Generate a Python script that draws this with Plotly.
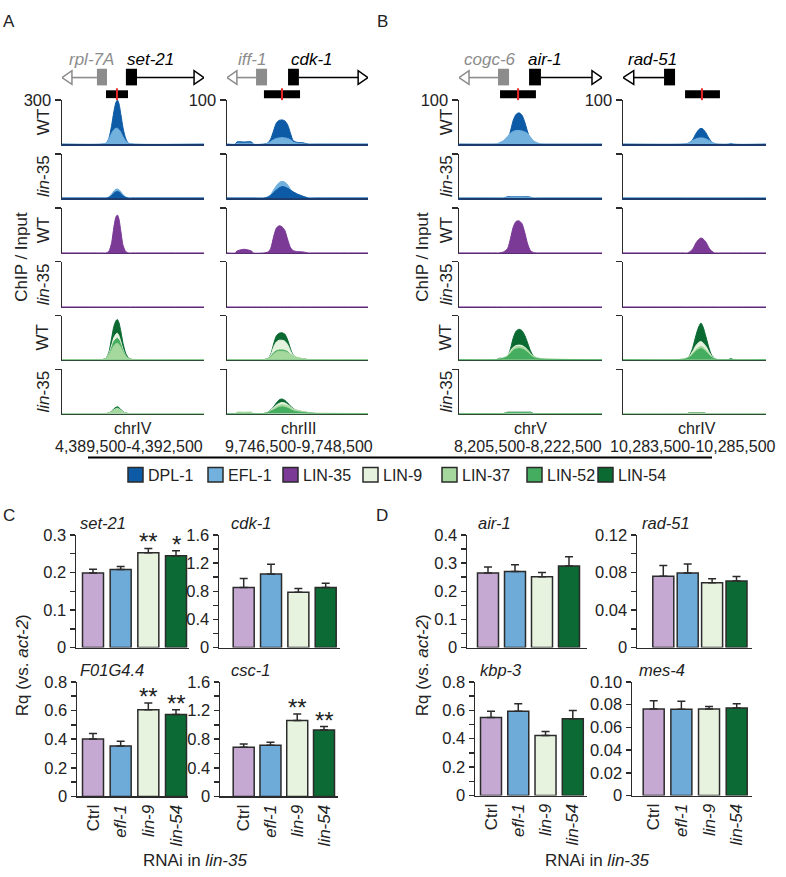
import plotly.graph_objects as go

W, H = 786, 877

# ------------------------------------------------------------------ data
factors = ["DPL-1", "EFL-1", "LIN-35", "LIN-9", "LIN-37", "LIN-52", "LIN-54"]
factor_colors = ["#0d5ba6", "#72b0de", "#7a3a96", "#e5f3de", "#a5d89d", "#45ad5f", "#0b6a32"]

windows_chr = ["chrIV", "chrIII", "chrV", "chrIV"]
windows_coord = ["4,389,500-4,392,500", "9,746,500-9,748,500",
                 "8,205,500-8,222,500", "10,283,500-10,285,500"]
track_ymax = [300, 100, 100, 100]

# --- set-21 window (relative position 0-100)
s21_pos = [0, 28, 31, 33, 35, 36.5, 38, 39, 40, 41.5, 43, 45, 47, 50, 100]
s21_wt_dpl1 = [0, 0, 5, 40, 130, 220, 285, 300, 280, 200, 110, 35, 5, 0, 0]
s21_wt_efl1 = [0, 0, 8, 35, 75, 98, 108, 108, 100, 80, 50, 20, 5, 0, 0]
s21_ko_dpl1 = [0, 0, 0, 4, 18, 32, 42, 45, 42, 30, 15, 4, 0, 0, 0]
s21_ko_efl1 = [0, 0, 0, 8, 28, 48, 60, 62, 58, 42, 22, 6, 0, 0, 0]
s21_wt_lin35 = [0, 0, 0, 10, 70, 170, 240, 252, 230, 140, 50, 8, 0, 0, 0]
s21_ko_lin35 = [0, 0, 0, 0, 0, 0, 0, 0, 0, 0, 0, 0, 0, 0, 0]
s21_wt_lin9 = [0, 0, 10, 40, 100, 150, 175, 180, 165, 120, 70, 25, 8, 0, 0]
s21_wt_lin37 = [0, 0, 8, 30, 68, 95, 108, 112, 105, 82, 50, 20, 6, 0, 0]
s21_wt_lin52 = [0, 0, 8, 32, 82, 122, 140, 146, 135, 100, 58, 22, 6, 0, 0]
s21_wt_lin54 = [0, 0, 10, 50, 150, 225, 265, 273, 255, 190, 110, 40, 10, 0, 0]
s21_ko_lin9 = [0, 0, 0, 3, 12, 24, 31, 33, 30, 20, 9, 2, 0, 0, 0]
s21_ko_lin37 = [0, 0, 0, 3, 11, 22, 28, 30, 27, 18, 8, 2, 0, 0, 0]
s21_ko_lin52 = [0, 0, 0, 3, 13, 27, 35, 38, 34, 22, 10, 2, 0, 0, 0]
s21_ko_lin54 = [0, 0, 0, 4, 16, 32, 42, 46, 41, 27, 12, 3, 0, 0, 0]

# --- cdk-1 window
cdk1_pos = [0, 6, 7, 12, 17.5, 18.5, 26, 29, 31, 33, 35, 37, 39, 41, 43, 45, 47, 50, 54, 58, 63, 100]
cdk1_wt_dpl1 = [0, 0, 5, 5, 5, 0, 0, 3, 12, 30, 48, 54, 55, 53, 44, 25, 8, 4, 3, 0, 0, 0]
cdk1_wt_efl1 = [0, 0, 2, 2, 2, 0, 0, 2, 6, 10, 13, 14, 15, 14, 13, 10, 5, 2, 1, 0, 0, 0]
cdk1_ko_dpl1 = [0, 0, 0, 0, 0, 0, 0, 2, 6, 12, 18, 23, 26, 25, 22, 18, 14, 9, 4, 0, 0, 0]
cdk1_ko_efl1 = [0, 0, 0, 0, 0, 0, 0, 3, 8, 18, 28, 35, 38, 36, 30, 20, 12, 6, 3, 0, 0, 0]
cdk1_wt_lin35 = [0, 0, 4, 8, 4, 0, 0, 2, 10, 35, 55, 60, 58, 50, 30, 12, 5, 3, 2, 0, 0, 0]
cdk1_ko_lin35 = [0, 0, 0, 0, 0, 0, 0, 0, 0, 0, 0, 0, 0, 0, 0, 0, 0, 0, 0, 0, 0, 0]
cdk1_wt_lin9 = [0, 0, 0, 0, 0, 0, 0, 3, 10, 28, 40, 44, 44, 42, 34, 20, 9, 4, 2, 0, 0, 0]
cdk1_wt_lin37 = [0, 0, 0, 0, 0, 0, 0, 2, 6, 12, 17, 19, 19, 18, 16, 12, 8, 5, 2, 0, 0, 0]
cdk1_wt_lin52 = [0, 0, 0, 0, 0, 0, 0, 2, 7, 15, 20, 22, 22, 21, 18, 12, 6, 3, 1, 0, 0, 0]
cdk1_wt_lin54 = [0, 0, 0, 0, 0, 0, 0, 3, 12, 35, 54, 60, 61, 58, 45, 25, 10, 4, 2, 0, 0, 0]
cdk1_ko_lin9 = [0, 0, 0, 0, 0, 0, 0, 3, 7, 13, 19, 23, 25, 24, 20, 15, 10, 7, 4, 2, 0, 0]
cdk1_ko_lin37 = [0, 0, 3, 3, 3, 0, 0, 3, 6, 10, 15, 18, 20, 19, 17, 13, 9, 6, 4, 2, 1, 0]
cdk1_ko_lin52 = [0, 0, 0, 0, 0, 0, 0, 2, 5, 8, 11, 14, 15, 14, 12, 9, 6, 4, 2, 1, 0, 0]
cdk1_ko_lin54 = [0, 0, 0, 0, 0, 0, 0, 3, 8, 15, 24, 31, 33, 30, 24, 17, 11, 7, 4, 2, 0, 0]

# --- air-1 window
air1_pos = [0, 26, 28, 31, 34, 36, 38, 40, 42, 44, 46, 48, 50, 52, 55, 58, 100]
air1_wt_dpl1 = [0, 0, 0, 2, 8, 30, 55, 68, 71, 66, 50, 28, 10, 3, 0, 0, 0]
air1_wt_efl1 = [0, 0, 3, 8, 18, 25, 29, 31, 31, 30, 28, 24, 16, 8, 3, 0, 0]
air1_ko_dpl1 = [0, 0, 0, 0, 3, 3, 3, 3, 3, 3, 3, 3, 2, 0, 0, 0, 0]
air1_ko_efl1 = [0, 0, 0, 0, 1, 2, 2, 2, 2, 2, 2, 1, 1, 0, 0, 0, 0]
air1_wt_lin35 = [0, 0, 0, 2, 10, 32, 58, 70, 71, 65, 45, 20, 5, 1, 0, 0, 0]
air1_ko_lin35 = [0, 0, 0, 0, 0, 0, 0, 0, 0, 0, 0, 0, 0, 0, 0, 0, 0]
air1_wt_lin9 = [0, 0, 2, 4, 10, 20, 28, 32, 33, 32, 28, 22, 14, 8, 4, 2, 0]
air1_wt_lin37 = [0, 0, 2, 4, 9, 18, 25, 29, 30, 29, 26, 20, 13, 8, 4, 2, 0]
air1_wt_lin52 = [0, 0, 1, 3, 7, 14, 21, 24, 25, 24, 21, 16, 10, 5, 2, 1, 0]
air1_wt_lin54 = [0, 0, 3, 3, 8, 25, 50, 65, 69, 66, 55, 38, 20, 8, 3, 1, 0]
air1_ko_lin9 = [0, 0, 0, 0, 2, 2, 2, 2, 2, 2, 2, 2, 1, 0, 0, 0, 0]
air1_ko_lin37 = [0, 0, 0, 0, 1, 2, 2, 2, 2, 2, 2, 1, 1, 0, 0, 0, 0]
air1_ko_lin52 = [0, 0, 0, 0, 2, 2, 2, 2, 2, 2, 2, 2, 1, 0, 0, 0, 0]
air1_ko_lin54 = [0, 0, 0, 0, 3, 3, 3, 3, 3, 3, 3, 3, 3, 0, 0, 0, 0]

# --- rad-51 window
rad51_pos = [0, 42, 45, 47, 49, 51, 53, 54.5, 56, 58, 60, 62, 64, 66, 74, 75.5, 77, 100]
rad51_wt_dpl1 = [0, 0, 1, 4, 12, 24, 33, 36, 34, 26, 14, 5, 1, 0, 0, 2, 0, 0]
rad51_wt_efl1 = [0, 0, 2, 5, 9, 12, 14, 14, 14, 12, 9, 5, 2, 0, 0, 1, 0, 0]
rad51_ko_dpl1 = [0, 0, 0, 0, 0, 0, 0, 0, 0, 0, 0, 0, 0, 0, 0, 0, 0, 0]
rad51_ko_efl1 = [0, 0, 0, 0, 0, 0, 0, 0, 0, 0, 0, 0, 0, 0, 0, 0, 0, 0]
rad51_wt_lin35 = [0, 0, 0, 3, 10, 22, 30, 33, 31, 24, 12, 4, 0, 0, 0, 0, 0, 0]
rad51_ko_lin35 = [0, 0, 0, 0, 0, 0, 0, 0, 0, 0, 0, 0, 0, 0, 0, 0, 0, 0]
rad51_wt_lin9 = [0, 1, 4, 10, 20, 32, 39, 41, 38, 30, 18, 8, 2, 0, 0, 1, 0, 0]
rad51_wt_lin37 = [0, 1, 4, 8, 15, 23, 28, 30, 28, 22, 14, 6, 2, 0, 0, 1, 0, 0]
rad51_wt_lin52 = [0, 0, 3, 6, 12, 19, 23, 25, 23, 18, 11, 5, 1, 0, 0, 1, 0, 0]
rad51_wt_lin54 = [0, 1, 4, 12, 30, 55, 75, 83, 74, 52, 28, 10, 3, 0, 0, 3, 0, 0]
rad51_ko_lin9 = [0, 0, 0, 1, 1, 1, 1, 1, 1, 0, 0, 0, 0, 0, 0, 0, 0, 0]
rad51_ko_lin37 = [0, 0, 0, 1, 1, 1, 1, 1, 1, 0, 0, 0, 0, 0, 0, 0, 0, 0]
rad51_ko_lin52 = [0, 0, 0, 2, 2, 2, 2, 2, 2, 0, 0, 0, 0, 0, 0, 0, 0, 0]
rad51_ko_lin54 = [0, 0, 0, 2, 2, 2, 2, 2, 2, 0, 0, 0, 0, 0, 0, 0, 0, 0]

# --- gene models (relative position within window)
neigh_name = ["rpl-7A", "iff-1", "cogc-6", ""]
neigh_exon = [(24.6, 31.7), (20.6, 28.4), (27.3, 35.0), None]
neigh_label_x = [21, 17.7, 21.7, None]
gene_name = ["set-21", "cdk-1", "air-1", "rad-51"]
gene_exon = [(45.0, 52.8), (43.3, 51.0), (49.0, 57.3), (28.7, 36.4)]
gene_dir = [1, 1, 1, -1]
gene_label_x = [62, 60.3, 60, 20.3]
amplicon = [(31.0, 46.5), (26.2, 51.8), (28.7, 53.8), (43.4, 67.8)]
amplicon_mid = [38.7, 39.0, 41.3, 55.2]

# --- RT-qPCR
rnai = ["Ctrl", "efl-1", "lin-9", "lin-54"]
rnai_labels = ["Ctrl", "<i>efl-1</i>", "<i>lin-9</i>", "<i>lin-54</i>"]
rnai_colors = ["#c6a9d3", "#6eabd9", "#e7f3df", "#0c6b35"]

qpcr_genes = ["set-21", "cdk-1", "F01G4.4", "csc-1", "air-1", "rad-51", "kbp-3", "mes-4"]
set21_rq = [0.199, 0.208, 0.253, 0.245]
set21_err = [0.010, 0.008, 0.011, 0.013]
cdk1_rq = [0.853, 1.047, 0.788, 0.853]
cdk1_err = [0.129, 0.138, 0.051, 0.060]
f01g44_rq = [0.401, 0.353, 0.606, 0.572]
f01g44_err = [0.039, 0.032, 0.046, 0.034]
csc1_rq = [0.688, 0.716, 1.062, 0.930]
csc1_err = [0.046, 0.041, 0.091, 0.046]
air1_rq = [0.265, 0.270, 0.252, 0.290]
air1_err = [0.021, 0.024, 0.015, 0.033]
rad51_rq = [0.0760, 0.0795, 0.0690, 0.0710]
rad51_err = [0.0115, 0.0095, 0.0043, 0.0047]
kbp3_rq = [0.549, 0.593, 0.423, 0.540]
kbp3_err = [0.044, 0.053, 0.028, 0.058]
mes4_rq = [0.0761, 0.0759, 0.0761, 0.0770]
mes4_err = [0.0072, 0.0071, 0.0023, 0.0037]
set21_sig = ["", "", "**", "*"]
cdk1_sig = ["", "", "", ""]
f01g44_sig = ["", "", "**", "**"]
csc1_sig = ["", "", "**", "**"]
none_sig = ["", "", "", ""]

# ------------------------------------------------------------------ helpers
FONT = "Liberation Sans, Arial, Helvetica, sans-serif"
INK = "#2b2b2b"


def fx(p):
    return p / W


def fy(p):
    return 1 - p / H


fig = go.Figure()
layout = {}
annotations = []
shapes = []
axis_n = [0]


def new_axes(xdom_px, ydom_px, xaxis_kw, yaxis_kw):
    axis_n[0] += 1
    n = axis_n[0]
    xk = "xaxis" if n == 1 else "xaxis%d" % n
    yk = "yaxis" if n == 1 else "yaxis%d" % n
    xr = "x" if n == 1 else "x%d" % n
    yr = "y" if n == 1 else "y%d" % n
    layout[xk] = dict(domain=[fx(xdom_px[0]), fx(xdom_px[1])], anchor=yr,
                      showgrid=False, zeroline=False, fixedrange=True, **xaxis_kw)
    layout[yk] = dict(domain=[fy(ydom_px[1]), fy(ydom_px[0])], anchor=xr,
                      showgrid=False, zeroline=False, fixedrange=True, **yaxis_kw)
    return xr, yr


def text(x, y, s, size=16, color="#222", angle=0, xanchor="center", yanchor="middle",
         xref="paper", yref="paper", **kw):
    annotations.append(dict(x=x, y=y, text=s, showarrow=False, xref=xref, yref=yref,
                            textangle=angle, xanchor=xanchor, yanchor=yanchor,
                            font=dict(family=FONT, size=size, color=color), **kw))


# ------------------------------------------------------------------ ChIP tracks
col_pos = [s21_pos, cdk1_pos, air1_pos, rad51_pos]
col_tracks = [
    [[s21_wt_dpl1, s21_wt_efl1], [s21_ko_dpl1, s21_ko_efl1], [s21_wt_lin35], [s21_ko_lin35],
     [s21_wt_lin9, s21_wt_lin37, s21_wt_lin52, s21_wt_lin54],
     [s21_ko_lin9, s21_ko_lin37, s21_ko_lin52, s21_ko_lin54]],
    [[cdk1_wt_dpl1, cdk1_wt_efl1], [cdk1_ko_dpl1, cdk1_ko_efl1], [cdk1_wt_lin35], [cdk1_ko_lin35],
     [cdk1_wt_lin9, cdk1_wt_lin37, cdk1_wt_lin52, cdk1_wt_lin54],
     [cdk1_ko_lin9, cdk1_ko_lin37, cdk1_ko_lin52, cdk1_ko_lin54]],
    [[air1_wt_dpl1, air1_wt_efl1], [air1_ko_dpl1, air1_ko_efl1], [air1_wt_lin35], [air1_ko_lin35],
     [air1_wt_lin9, air1_wt_lin37, air1_wt_lin52, air1_wt_lin54],
     [air1_ko_lin9, air1_ko_lin37, air1_ko_lin52, air1_ko_lin54]],
    [[rad51_wt_dpl1, rad51_wt_efl1], [rad51_ko_dpl1, rad51_ko_efl1], [rad51_wt_lin35], [rad51_ko_lin35],
     [rad51_wt_lin9, rad51_wt_lin37, rad51_wt_lin52, rad51_wt_lin54],
     [rad51_ko_lin9, rad51_ko_lin37, rad51_ko_lin52, rad51_ko_lin54]],
]
row_factors = [["DPL-1", "EFL-1"], ["DPL-1", "EFL-1"], ["LIN-35"], ["LIN-35"],
               ["LIN-9", "LIN-37", "LIN-52", "LIN-54"], ["LIN-9", "LIN-37", "LIN-52", "LIN-54"]]
row_strain = ["WT", "<i>lin</i>-35", "WT", "<i>lin</i>-35", "WT", "<i>lin</i>-35"]
row_base_color = ["#1d3c6e", "#1d3c6e", "#5a2d72", "#5a2d72", "#2f4a36", "#2f4a36"]

track_cols_px = [(62, 204), (227, 368), (459, 602), (623, 766)]
track_rows_px = [(93, 138), (148, 193), (203, 249), (258, 304), (313, 358), (368, 413)]

top_xref = []
for c in range(4):
    for r in range(6):
        ymax = track_ymax[c]
        xr, yr = new_axes(
            track_cols_px[c], track_rows_px[r],
            dict(range=[0, 100], showline=True, linecolor=row_base_color[r], linewidth=1.6,
                 ticks="", showticklabels=False),
            dict(range=[0, ymax], showline=True, linecolor=INK, linewidth=1.5,
                 ticks="outside", ticklen=6, tickwidth=1.5, tickcolor=INK,
                 tickmode="array", tickvals=[ymax], ticktext=[str(ymax)],
                 showticklabels=(r == 0),
                 tickfont=dict(family=FONT, size=16.5, color="#222")))
        if r == 0:
            top_xref.append(xr)
        series = list(zip(row_factors[r], col_tracks[c][r]))
        series.sort(key=lambda s: -max(s[1]))
        for fname, vals in series:
            colr = factor_colors[factors.index(fname)]
            fig.add_trace(go.Scatter(
                x=col_pos[c], y=vals, xaxis=xr, yaxis=yr, mode="lines",
                line=dict(color=colr, width=1, shape="spline", smoothing=0.7),
                fill="tozeroy", fillcolor=colr, hoverinfo="skip", showlegend=False))

# row labels
for r in range(6):
    yc = fy((track_rows_px[r][0] + track_rows_px[r][1]) / 2)
    text(fx(43), yc, row_strain[r], size=17, angle=-90)
    text(fx(446), yc, row_strain[r], size=17, angle=-90)
text(fx(22), fy(253), "ChIP / Input", size=17, angle=-90)
text(fx(423), fy(253), "ChIP / Input", size=17, angle=-90)

# window labels
chr_x_px = [133, 299, 530, 697]
coord_x_px = [129, 299, 528, 693]
for c in range(4):
    text(fx(chr_x_px[c]), fy(428), windows_chr[c], size=16)
    text(fx(coord_x_px[c]), fy(447), windows_coord[c], size=16)

# gene models
GRAY = "#8c8c8c"
y_gene = 70
for c in range(4):
    xr = top_xref[c]
    if neigh_exon[c] is not None:
        e0, e1 = neigh_exon[c]
        shapes.append(dict(type="line", xref=xr, yref="paper", x0=6.8, x1=e0,
                           y0=fy(y_gene), y1=fy(y_gene), line=dict(color=GRAY, width=1.6)))
        shapes.append(dict(type="path", xref=xr, yref="paper",
                           path="M 0,%f L 7,%f L 7,%f Z" % (fy(y_gene), fy(63), fy(77)),
                           fillcolor="white", line=dict(color=GRAY, width=1.5)))
        shapes.append(dict(type="rect", xref=xr, yref="paper", x0=e0, x1=e1,
                           y0=fy(78), y1=fy(61), fillcolor=GRAY, line=dict(width=0)))
        text(neigh_label_x[c], fy(52), "<i>%s</i>" % neigh_name[c], size=17, color=GRAY,
             xref=xr)
    e0, e1 = gene_exon[c]
    if gene_dir[c] == 1:
        shapes.append(dict(type="line", xref=xr, yref="paper", x0=e1, x1=93.2,
                           y0=fy(y_gene), y1=fy(y_gene), line=dict(color="black", width=1.6)))
        shapes.append(dict(type="path", xref=xr, yref="paper",
                           path="M 100,%f L 93,%f L 93,%f Z" % (fy(y_gene), fy(63), fy(77)),
                           fillcolor="white", line=dict(color="black", width=1.5)))
    else:
        shapes.append(dict(type="line", xref=xr, yref="paper", x0=7.5, x1=e0,
                           y0=fy(y_gene), y1=fy(y_gene), line=dict(color="black", width=1.6)))
        shapes.append(dict(type="path", xref=xr, yref="paper",
                           path="M 0,%f L 7.5,%f L 7.5,%f Z" % (fy(y_gene), fy(63), fy(77)),
                           fillcolor="white", line=dict(color="black", width=1.5)))
    shapes.append(dict(type="rect", xref=xr, yref="paper", x0=e0, x1=e1,
                       y0=fy(78), y1=fy(61), fillcolor="black", line=dict(width=0)))
    text(gene_label_x[c], fy(52), "<i>%s</i>" % gene_name[c], size=17, color="black", xref=xr)
    a0, a1 = amplicon[c]
    shapes.append(dict(type="rect", xref=xr, yref="paper", x0=a0, x1=a1,
                       y0=fy(91), y1=fy(83), fillcolor="black", line=dict(width=0)))
    shapes.append(dict(type="line", xref=xr, yref="paper", x0=amplicon_mid[c], x1=amplicon_mid[c],
                       y0=fy(93), y1=fy(81), line=dict(color="#e8262a", width=2)))

# separator + legend
shapes.append(dict(type="line", xref="paper", yref="paper", x0=fx(88), x1=fx(712),
                   y0=fy(458), y1=fy(458), line=dict(color="black", width=2)))
legend_x_px = [128, 208, 283, 363, 442, 527, 598]
for i, fname in enumerate(factors):
    x0 = legend_x_px[i]
    shapes.append(dict(type="rect", xref="paper", yref="paper", x0=fx(x0), x1=fx(x0 + 15),
                       y0=fy(483), y1=fy(468), fillcolor=factor_colors[i],
                       line=dict(color=INK, width=1.5)))
    text(fx(x0 + 18), fy(476), fname, size=16, xanchor="left")

# ------------------------------------------------------------------ bar charts
qpcr_vals = [set21_rq, cdk1_rq, f01g44_rq, csc1_rq, air1_rq, rad51_rq, kbp3_rq, mes4_rq]
qpcr_errs = [set21_err, cdk1_err, f01g44_err, csc1_err, air1_err, rad51_err, kbp3_err, mes4_err]
qpcr_sig = [set21_sig, cdk1_sig, f01g44_sig, csc1_sig, none_sig, none_sig, none_sig, none_sig]
qpcr_ticks = [
    ([0, 0.1, 0.2, 0.3], ["0", "0.1", "0.2", "0.3"], [0.05, 0.15, 0.25]),
    ([0, 0.4, 0.8, 1.2, 1.6], ["0", "0.4", "0.8", "1.2", "1.6"], [0.2, 0.6, 1.0, 1.4]),
    ([0, 0.2, 0.4, 0.6, 0.8], ["0", "0.2", "0.4", "0.6", "0.8"], [0.1, 0.3, 0.5, 0.7]),
    ([0, 0.4, 0.8, 1.2, 1.6], ["0", "0.4", "0.8", "1.2", "1.6"], [0.2, 0.6, 1.0, 1.4]),
    ([0, 0.1, 0.2, 0.3, 0.4], ["0", "0.1", "0.2", "0.3", "0.4"], [0.05, 0.15, 0.25, 0.35]),
    ([0, 0.04, 0.08, 0.12], ["0", "0.04", "0.08", "0.12"], [0.02, 0.06, 0.10]),
    ([0, 0.2, 0.4, 0.6, 0.8], ["0", "0.2", "0.4", "0.6", "0.8"], [0.1, 0.3, 0.5, 0.7]),
    ([0, 0.02, 0.04, 0.06, 0.08, 0.10], ["0", "0.02", "0.04", "0.06", "0.08", "0.10"], []),
]
# (axis left, first bar centre, last bar centre, axis right, y of 0, y of top) in px
bar_geom = [
    (76, 93, 176, 189, 652, 537),
    (219, 243.7, 325.7, 340, 652, 537),
    (77, 93, 176, 188, 804, 687),
    (220, 243.7, 324, 338, 804, 687),
    (467, 488, 569, 587, 652, 537),
    (637, 663.3, 736.5, 752, 652, 537),
    (475, 491, 572.8, 587, 803, 687),
    (632, 653.7, 736.7, 752, 803, 687),
]
title_x_px = [103, 251, 112, 250, 494, 666, 501, 662]

for k in range(8):
    al, c0, c3, ar, yz, yt = bar_geom[k]
    step = (c3 - c0) / 3
    xrange_ = [-(c0 - al) / step, 3 + (ar - c3) / step]
    tv, tt, mv = qpcr_ticks[k]
    bottom = k in (2, 3, 6, 7)
    xr, yr = new_axes(
        (al, ar), (yt, yz),
        dict(range=xrange_, showline=True, linecolor=INK, linewidth=1.5, ticks="",
             tickmode="array", tickvals=[0, 1, 2, 3], ticktext=rnai_labels,
             showticklabels=bottom, tickangle=-90,
             tickfont=dict(family=FONT, size=17, color="#222")),
        dict(range=[0, tv[-1]], showline=True, linecolor=INK, linewidth=1.5,
             ticks="outside", ticklen=5, tickwidth=1.5, tickcolor=INK,
             tickmode="array", tickvals=tv, ticktext=tt,
             minor=dict(tickvals=mv, ticks="outside", ticklen=5, tickwidth=1.5, tickcolor=INK),
             tickfont=dict(family=FONT, size=16.5, color="#222")))
    vals = qpcr_vals[k]
    errs = qpcr_errs[k]
    fig.add_trace(go.Bar(
        x=[0, 1, 2, 3], y=vals, xaxis=xr, yaxis=yr, width=21 / step,
        marker=dict(color=rnai_colors, line=dict(color=INK, width=1.5)),
        error_y=dict(type="data", array=errs, arrayminus=[0, 0, 0, 0], symmetric=False,
                     color=INK, thickness=1.5, width=4),
        hoverinfo="skip", showlegend=False, cliponaxis=False))
    for i in range(4):
        if qpcr_sig[k][i]:
            text(i, vals[i] + errs[i], qpcr_sig[k][i], size=24, color="#222",
                 xref=xr, yref=yr, yanchor="bottom", yshift=-9)
    title_y = 525 if k in (0, 1, 4, 5) else 675
    text(fx(title_x_px[k]), fy(title_y), "<i>%s</i>" % qpcr_genes[k], size=16.5)

text(fx(22), fy(670), "Rq (vs. <i>act-2</i>)", size=17, angle=-90)
text(fx(422), fy(670), "Rq (vs. <i>act-2</i>)", size=17, angle=-90)
text(fx(195), fy(869), "RNAi in <i>lin-35</i>", size=17)
text(fx(597), fy(869), "RNAi in <i>lin-35</i>", size=17)

for lab, px, py in [("A", 9, 13), ("B", 382, 13), ("C", 9, 517), ("D", 382, 517)]:
    text(fx(px), fy(py), lab, size=17)

layout.update(dict(width=W, height=H, autosize=False, margin=dict(l=0, r=0, t=0, b=0),
                   paper_bgcolor="white", plot_bgcolor="rgba(0,0,0,0)",
                   annotations=annotations, shapes=shapes, showlegend=False,
                   font=dict(family=FONT, color="#222"), bargap=0))
fig.update_layout(**layout)
fig.write_html("out.html", config={"displayModeBar": False, "staticPlot": True},
               post_script="document.body.style.margin='0';document.body.style.padding='0';")
